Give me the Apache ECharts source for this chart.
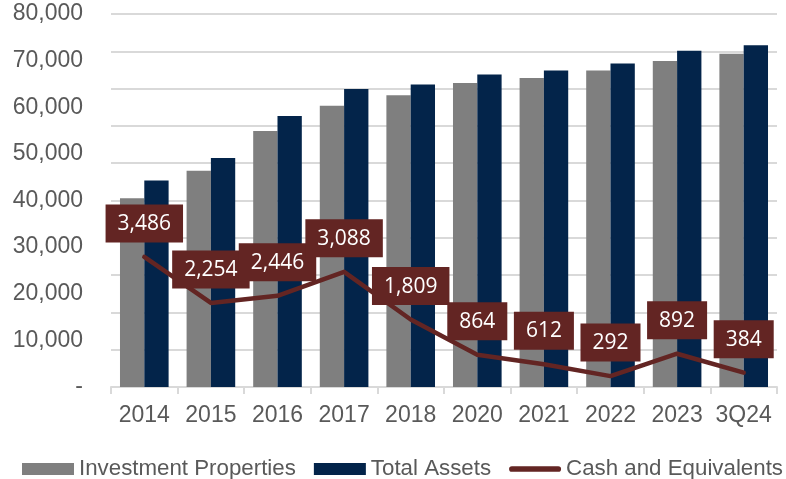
<!DOCTYPE html>
<html>
<head>
<meta charset="utf-8">
<script src="https://cdn.jsdelivr.net/npm/echarts@6/dist/echarts.min.js"></script>
<style>html,body{margin:0;padding:0;background:#fff;}#c{width:786px;height:479px;}</style>
</head>
<body>
<div id="c"></div>
<script>
const categories = ['2014','2015','2016','2017','2018','2020','2021','2022','2023','3Q24'];
const investmentProperties = [40500, 46400, 54900, 60300, 62600, 65200, 66300, 67900, 69900, 71500];
const totalAssets = [44300, 49100, 58100, 63900, 64900, 67000, 67900, 69400, 72100, 73300];
const cashAndEquivalents = [3486, 2254, 2446, 3088, 1809, 864, 612, 292, 892, 384];
const leftTickLabels = ['-', '10,000', '20,000', '30,000', '40,000', '50,000', '60,000', '70,000', '80,000'];

const chart = echarts.init(document.getElementById('c'), null, {renderer: 'canvas'});
const axisFont = 'Liberation Sans, Arial, sans-serif';
chart.setOption({
  animation: false,
  backgroundColor: '#ffffff',
  grid: {left: 111, right: 9, top: 14, bottom: 92},
  legend: {
    left: 17, top: 453, width: 780,
    itemWidth: 52, itemHeight: 12, itemGap: 18,
    textStyle: {fontFamily: axisFont, fontSize: 22.3, color: '#595959'},
    data: [
      {name: 'Investment Properties', icon: 'rect'},
      {name: 'Total Assets', icon: 'rect'},
      {name: 'Cash and Equivalents', icon: 'path://M3,0 L52,0 A3,3 0 0 1 52,6 L3,6 A3,3 0 0 1 3,0 Z', itemStyle: {color: '#632523'}}
    ]
  },
  xAxis: {
    type: 'category',
    data: categories,
    axisLine: {lineStyle: {color: '#d9d9d9', width: 2}},
    axisTick: {show: true, length: 7, lineStyle: {color: '#d9d9d9', width: 2}},
    axisLabel: {fontFamily: axisFont, fontSize: 23, color: '#595959', margin: 17, interval: 0}
  },
  yAxis: [
    {
      type: 'value', min: 0, max: 80000, interval: 10000,
      axisLine: {show: false}, axisTick: {show: false},
      splitLine: {show: false},
      axisLabel: {
        fontFamily: axisFont, fontSize: 23, color: '#595959', margin: 28,
        formatter: function (v) { return leftTickLabels[Math.round(v / 10000)]; }
      }
    },
    {
      type: 'value', min: 0, max: 10000, interval: 1000,
      axisLine: {show: false}, axisTick: {show: false},
      axisLabel: {show: false},
      splitLine: {show: true, lineStyle: {color: '#d9d9d9', width: 2}}
    }
  ],
  series: [
    {
      name: 'Investment Properties', type: 'bar', yAxisIndex: 0,
      data: investmentProperties,
      itemStyle: {color: '#7f7f7f'},
      barGap: '0%', barCategoryGap: '27%'
    },
    {
      name: 'Total Assets', type: 'bar', yAxisIndex: 0,
      data: totalAssets,
      itemStyle: {color: '#03244a'},
      barGap: '0%', barCategoryGap: '27%'
    },
    {
      name: 'Cash and Equivalents', type: 'line', yAxisIndex: 1,
      data: cashAndEquivalents,
      symbol: 'circle', symbolSize: 1, showSymbol: true,
      lineStyle: {color: '#632523', width: 4.5, cap: 'round', join: 'round'},
      itemStyle: {color: '#632523'},
      z: 5,
      label: {
        show: true, position: 'top', distance: 14,
        fontFamily: 'Open Sans, Noto Sans, sans-serif', fontSize: 21, lineHeight: 25,
        color: '#ffffff', backgroundColor: '#632523',
        padding: [7, 12, 6, 12],
        formatter: function (p) { return p.value.toLocaleString('en-US'); }
      },
      labelLayout: {hideOverlap: false}
    }
  ]
});
</script>
</body>
</html>
